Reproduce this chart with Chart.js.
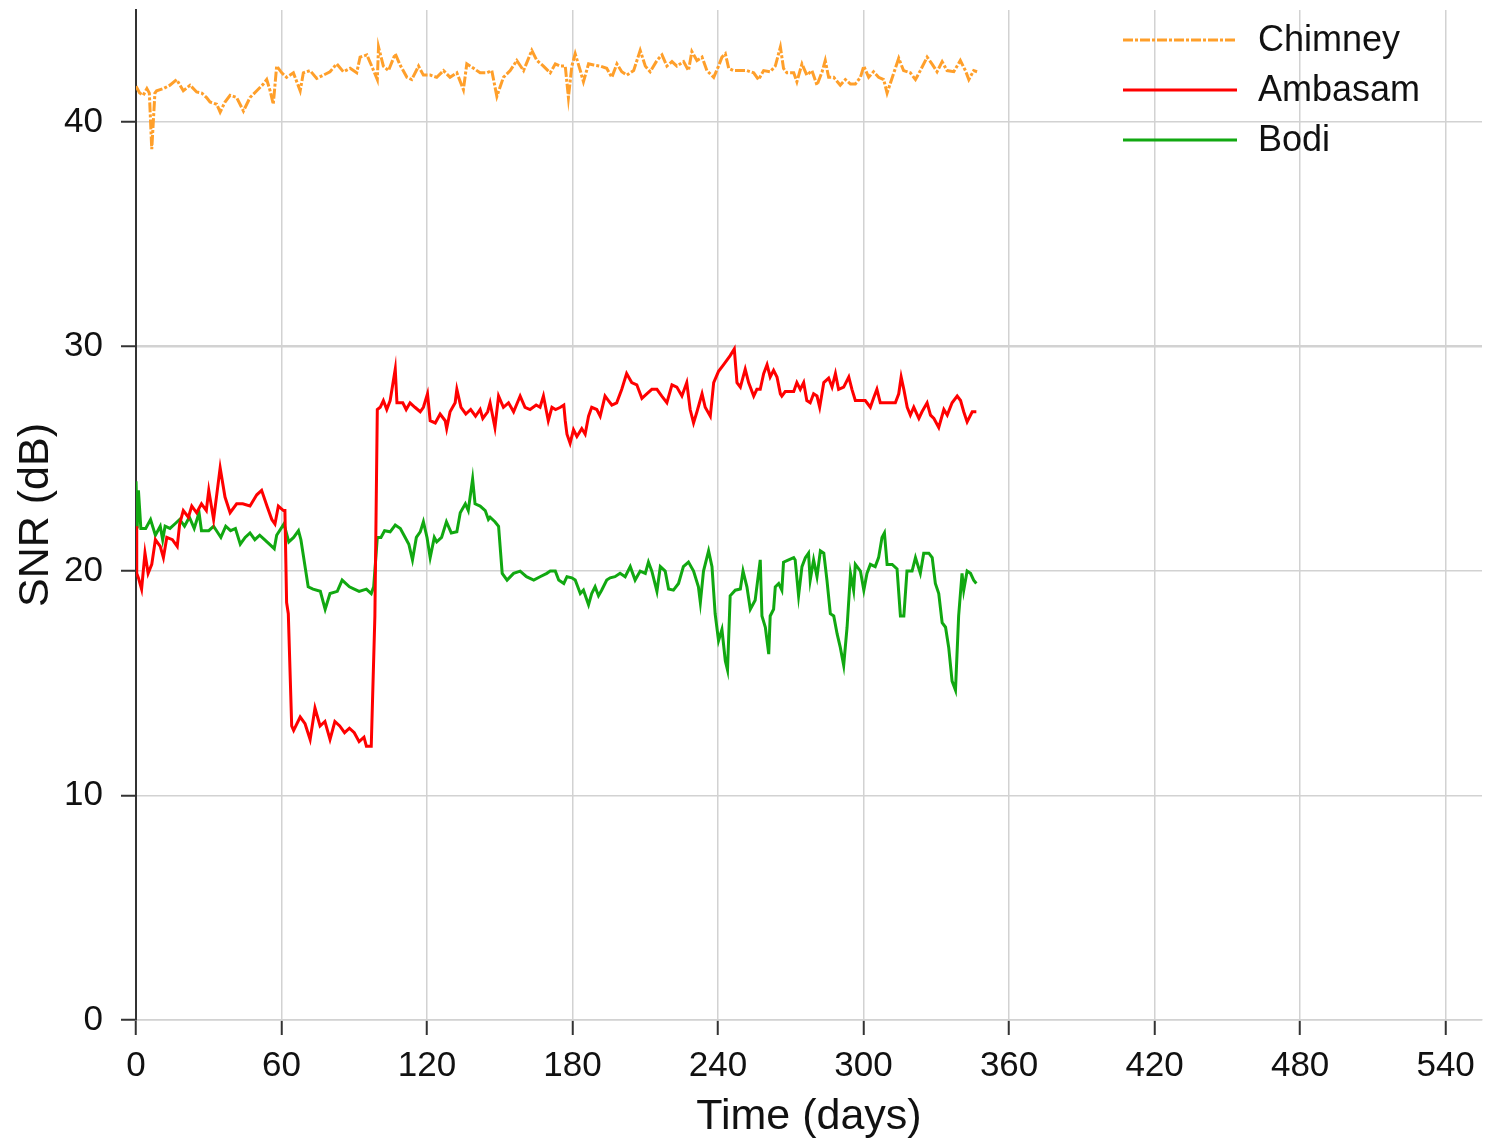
<!DOCTYPE html>
<html>
<head>
<meta charset="utf-8">
<script src="https://cdn.jsdelivr.net/npm/chart.js@4.4.1/dist/chart.umd.min.js"></script>
<style>
  html, body { margin: 0; padding: 0; background: #fff; }
  #wrap { width: 1486px; height: 1143px; }
</style>
</head>
<body>
<div id="wrap"><canvas id="snrChart"></canvas></div>
<script>
var xTicks = [0, 60, 120, 180, 240, 300, 360, 420, 480, 540];
var yTicks = [0, 10, 20, 30, 40];

var chimneyDays = [0, 1.5, 3, 4.5, 5.5, 6.5, 7.8, 8.5, 11.3, 14, 16.8, 19.5, 22.3, 25, 27.1, 29.1, 30.5, 33.3, 34.7, 36.7,
    38.8, 41.5, 44.3, 47, 49.8, 52.5, 53.9, 55.3, 56.6, 58, 60.1, 62.1, 64.9, 67.7, 69, 71.8, 74.5, 77.3, 80, 82.8,
    85.5, 88.3, 91, 92.4, 95.2, 97.2, 99.5, 100, 102, 104.1, 106.9, 108.9, 111.7, 113.7, 116.5, 118.5, 121.3, 124, 126.8, 129.5,
    132.3, 135, 136.4, 139.2, 141.9, 144.6, 146.7, 148.8, 151.5, 154.3, 157, 159.8, 163.2, 165.3, 168, 170.8, 172.9, 174.9, 177, 178.3,
    179.7, 181.1, 183.2, 184.5, 186.6, 188.7, 191.4, 194.1, 196.2, 198.3, 200.3, 202.4, 205.2, 207.9, 210, 212, 214.8, 216.9, 218.9, 221,
    223, 225.8, 227.8, 229.2, 231.3, 233.4, 235.4, 238.2, 240.2, 241.6, 243, 244.4, 246.4, 249.2, 251.9, 254.7, 256.7, 258.8, 261.5, 263.6,
    265.7, 267, 268.4, 271.2, 272.5, 274.6, 276.6, 278.7, 280.8, 282.9, 284.2, 285.6, 287.7, 290.4, 292.5, 294.6, 296.6, 298.7, 300.1, 302.1,
    304.1, 306.2, 308.3, 309.7, 311.7, 314.5, 316.5, 319.3, 321.4, 323.4, 326.2, 328.2, 330.3, 332.4, 334.4, 337.2, 339.9, 342, 343.4, 345.4, 346.8];
var chimneySnr = [41.6, 41.3, 41.2, 41.5, 41.3, 38.8, 41.3, 41.4, 41.5, 41.65, 41.9, 41.4, 41.65, 41.35, 41.3, 41.1, 40.9, 40.8, 40.45, 40.9,
    41.2, 41.1, 40.5, 41.1, 41.4, 41.7, 41.9, 41.4, 40.8, 42.5, 42.2, 42.0, 42.2, 41.4, 42.2, 42.3, 41.95, 42.1, 42.25, 42.6,
    42.25, 42.4, 42.2, 42.9, 43.0, 42.5, 41.9, 43.35, 42.5, 42.3, 43.05, 42.55, 42.0, 41.9, 42.5, 42.1, 42.1, 42.0, 42.3, 42.0,
    42.2, 41.45, 42.6, 42.4, 42.2, 42.2, 42.3, 41.15, 42.0, 42.3, 42.75, 42.3, 43.2, 42.75, 42.5, 42.2, 42.6, 42.5, 42.5, 41.1,
    42.5, 43.05, 42.3, 41.8, 42.6, 42.55, 42.5, 42.4, 42.0, 42.6, 42.25, 42.1, 42.3, 43.2, 42.5, 42.25, 42.75, 43.0, 42.5, 42.7,
    42.5, 42.7, 42.3, 43.15, 42.75, 42.9, 42.3, 42.0, 42.5, 42.9, 43.05, 42.4, 42.3, 42.3, 42.3, 42.2, 41.9, 42.3, 42.25, 42.5,
    43.35, 42.4, 42.2, 42.2, 41.8, 42.6, 42.1, 42.3, 41.65, 42.25, 42.75, 42.0, 42.0, 41.65, 41.9, 41.7, 41.7, 42.0, 42.5, 42.0,
    42.25, 42.0, 41.9, 41.3, 41.95, 42.85, 42.3, 42.2, 41.9, 42.3, 42.9, 42.6, 42.25, 42.7, 42.3, 42.25, 42.75, 42.3, 41.9, 42.3, 42.25];

var ambasamDays = [0, 0.3, 1, 2.3, 3.7, 5, 6.5, 8, 10, 11.3, 12.7, 15, 17, 18, 19.5, 21.6, 23, 25, 27, 29,
    30, 32, 34.7, 36.7, 38.8, 41.5, 44, 47, 49.8, 51.8, 54, 56, 57.3, 58.7, 60.8, 61.4, 62.1, 62.8, 64.2, 65,
    67.7, 69.7, 71.8, 73.8, 75.9, 77.9, 80, 82, 84, 86, 88, 90, 92, 94, 95, 97, 98.5, 99.5, 100.7, 102,
    103.4, 104.8, 106, 106.9, 107.6, 110, 111.4, 113, 115, 117.2, 118.5, 120.2, 121.3, 123.4, 125.4, 127.5, 128.1, 129.5, 131.6, 132.3,
    134, 136, 138, 140, 141.9, 143, 145, 146, 148, 149.5, 151.5, 153.6, 155.7, 158.4, 160.4, 162.5, 165, 166.6, 168, 170,
    171.5, 173, 175, 176.4, 177, 177.7, 179, 180.4, 181.8, 183.8, 185.2, 186.6, 187.9, 190, 191.4, 193.4, 194.8, 196.2, 198.2, 200.3,
    202.3, 204.4, 206.5, 208.6, 210.6, 212.7, 214.8, 216.8, 218.9, 221, 223, 225.1, 227.1, 228.5, 229.9, 231.3, 233.4, 234.7, 236.8, 238.2,
    240.2, 242.3, 245, 246.7, 247.8, 249.2, 251.2, 252.6, 254.7, 256, 257.4, 258.8, 260.2, 261.5, 262.9, 264.3, 265.7, 266.3, 267.7, 269.8,
    271.2, 272.5, 273.9, 275.3, 276.6, 278, 279.4, 280.8, 281.9, 283.6, 285.6, 287, 288.4, 289.7, 291.8, 293.9, 295.2, 296.6, 298.7, 300.7,
    302.8, 304.1, 305.5, 306.9, 309, 311.1, 313.1, 314.5, 315.5, 316.6, 318, 319.3, 320.7, 322.8, 324.1, 326.2, 327.6, 329, 331, 333.1,
    334.5, 336.5, 338.6, 340, 341.3, 342.7, 344.8, 346.5];
var ambasamSnr = [22.0, 19.9, 19.7, 19.2, 20.8, 19.9, 20.3, 21.4, 21.1, 20.6, 21.5, 21.4, 21.1, 22.1, 22.7, 22.4, 22.9, 22.6, 23.0, 22.7,
    23.6, 22.3, 24.6, 23.3, 22.6, 23.0, 23.0, 22.9, 23.4, 23.6, 22.9, 22.3, 22.1, 22.9, 22.7, 22.7, 18.6, 18.1, 13.1, 12.9,
    13.5, 13.2, 12.5, 13.9, 13.1, 13.3, 12.5, 13.3, 13.1, 12.8, 13.0, 12.8, 12.4, 12.6, 12.2, 12.2, 18.0, 27.2, 27.3, 27.6,
    27.2, 27.6, 28.4, 29.0, 27.5, 27.5, 27.2, 27.5, 27.3, 27.1, 27.3, 27.9, 26.7, 26.6, 27.0, 26.7, 26.35, 27.1, 27.5, 28.1,
    27.3, 27.0, 27.2, 26.9, 27.2, 26.8, 27.1, 27.5, 26.4, 27.8, 27.3, 27.5, 27.1, 27.8, 27.3, 27.2, 27.4, 27.3, 27.8, 26.7,
    27.3, 27.2, 27.3, 27.4, 26.7, 26.1, 25.7, 26.3, 26.0, 26.35, 26.1, 26.9, 27.3, 27.2, 26.9, 27.8, 27.6, 27.4, 27.5, 28.1,
    28.8, 28.4, 28.3, 27.7, 27.9, 28.1, 28.1, 27.8, 27.5, 28.3, 28.2, 27.8, 28.4, 27.2, 26.6, 27.1, 27.9, 27.3, 26.9, 28.4,
    28.9, 29.2, 29.6, 29.9, 28.4, 28.2, 29.0, 28.4, 27.8, 28.1, 28.1, 28.8, 29.2, 28.65, 28.95, 28.65, 27.9, 27.8, 28.0, 28.0,
    28.0, 28.4, 28.1, 28.4, 27.6, 27.5, 27.9, 27.8, 27.3, 28.4, 28.6, 28.2, 28.8, 28.1, 28.2, 28.65, 28.1, 27.6, 27.6, 27.6,
    27.3, 27.7, 28.1, 27.5, 27.5, 27.5, 27.5, 27.9, 28.65, 28.1, 27.3, 26.95, 27.3, 26.8, 27.1, 27.5, 26.95, 26.8, 26.4, 27.2,
    26.95, 27.5, 27.8, 27.6, 27.1, 26.65, 27.1, 27.1];

var bodiDays = [0, 0.5, 1, 2, 4, 6, 8, 10, 11, 12, 14, 16, 18, 20, 22, 24, 26, 27, 30, 32,
    35, 37, 39, 41, 43, 45, 47, 49, 51, 53, 55, 57, 58, 61, 63, 65, 67, 68, 71, 73,
    76, 78, 80, 83, 85, 88, 90, 92, 95, 97, 98, 99.5, 101, 102.5, 104.8, 106.9, 109, 111, 112.5, 114,
    115.6, 117.2, 118.5, 120, 121.3, 123, 124, 126, 128, 130, 132.3, 133.7, 135.8, 137, 138.8, 139.8, 141.9, 144, 145.3, 146,
    148, 149.5, 151, 153, 155.7, 158.4, 161, 164, 166.6, 169.4, 170.8, 172.9, 174.3, 176.4, 177.7, 179.7, 181.1, 183.2, 184.5, 186.6,
    187.9, 189.3, 190.7, 192, 194.1, 195.5, 197.5, 199.6, 201.7, 203.8, 205.8, 207.9, 210, 211.3, 212.7, 214.8, 216.2, 218.2, 219.6, 221.6,
    223.7, 225.7, 227.8, 229.9, 231.9, 232.7, 234, 236.1, 237.5, 238.8, 240.2, 241.6, 243, 243.9, 245, 247.1, 249.2, 250.3, 251.9, 253.3,
    255.3, 257.4, 258.1, 259.5, 260.9, 261.5, 262.9, 263.6, 265, 266.3, 267, 269.1, 271.2, 271.8, 273.2, 274.6, 276, 277.3, 278, 279.4,
    280.8, 282.2, 283.6, 284.9, 286.3, 287.7, 289.1, 290.4, 291.8, 293.2, 294.6, 295.9, 296.6, 298.7, 300.1, 301.4, 302.8, 304.8, 306.2, 307.6,
    308.6, 309.7, 311.8, 313.8, 315.2, 316.6, 317.9, 320, 321.4, 323.4, 324.8, 326.9, 328.3, 329.6, 331, 332.4, 333.8, 335.1, 336.5, 337.9,
    339.2, 340.6, 341.3, 342.7, 344.1, 345.4, 346.5];
var bodiSnr = [24.0, 21.9, 23.6, 21.9, 21.9, 22.3, 21.6, 22.0, 21.4, 22.0, 21.9, 22.1, 22.3, 22.0, 22.4, 21.9, 22.6, 21.8, 21.8, 22.0,
    21.5, 22.0, 21.8, 21.9, 21.2, 21.5, 21.7, 21.4, 21.6, 21.4, 21.2, 21.0, 21.6, 22.1, 21.3, 21.5, 21.8, 21.4, 19.3, 19.2,
    19.1, 18.3, 19.0, 19.1, 19.6, 19.3, 19.2, 19.1, 19.2, 19.0, 19.3, 21.5, 21.5, 21.8, 21.75, 22.05, 21.9, 21.5, 21.2, 20.5,
    21.5, 21.75, 22.2, 21.5, 20.6, 21.5, 21.3, 21.5, 22.2, 21.7, 21.75, 22.6, 23.0, 22.7, 24.1, 23.0, 22.9, 22.7, 22.3, 22.4,
    22.2, 22.0, 19.9, 19.6, 19.9, 20.0, 19.75, 19.6, 19.75, 19.9, 20.0, 20.0, 19.6, 19.45, 19.75, 19.7, 19.6, 19.0, 19.15, 18.5,
    19.0, 19.3, 18.9, 19.15, 19.6, 19.7, 19.75, 19.9, 19.75, 20.2, 19.6, 20.0, 19.9, 20.4, 20.0, 19.1, 20.2, 20.0, 19.2, 19.15,
    19.45, 20.2, 20.4, 20.0, 19.3, 18.6, 20.0, 20.9, 20.2, 18.1, 16.9, 17.4, 16.0, 15.6, 18.9, 19.15, 19.2, 20.0, 19.3, 18.3,
    18.7, 20.5, 18.0, 17.5, 16.3, 18.0, 18.3, 19.3, 19.45, 19.15, 20.4, 20.5, 20.6, 20.5, 18.9, 20.2, 20.6, 20.8, 19.6, 20.5,
    19.75, 20.9, 20.8, 19.6, 18.1, 18.0, 17.2, 16.6, 15.8, 17.5, 19.9, 19.15, 20.3, 20.0, 19.15, 19.9, 20.3, 20.2, 20.6, 21.5,
    21.7, 20.3, 20.3, 20.1, 18.0, 18.0, 20.0, 20.0, 20.6, 19.9, 20.8, 20.8, 20.6, 19.45, 19.0, 17.7, 17.5, 16.6, 15.1, 14.7,
    18.0, 19.9, 19.15, 20.0, 19.9, 19.6, 19.45];

function toPoints(days, vals) {
    return days.map(function (d, i) { return { x: d, y: vals[i] }; });
}

var labelFont = '"Liberation Sans", Arial, sans-serif';

// legend drawn inside the plot, top right, no box
var insideLegend = {
    id: 'insideLegend',
    afterDraw: function (chart) {
        var ctx = chart.ctx;
        ctx.save();
        chart.data.datasets.forEach(function (ds, i) {
            var y = 40 + i * 50;
            ctx.beginPath();
            ctx.strokeStyle = ds.borderColor;
            ctx.lineWidth = 3;
            ctx.setLineDash(ds.borderDash || []);
            ctx.moveTo(1123, y);
            ctx.lineTo(1237, y);
            ctx.stroke();
            ctx.setLineDash([]);
            ctx.fillStyle = '#111';
            ctx.font = '36px ' + labelFont;
            ctx.textBaseline = 'middle';
            ctx.textAlign = 'left';
            ctx.fillText(ds.label, 1258, y + 1);
        });
        ctx.restore();
    }
};

var ctxSnr = document.getElementById('snrChart');
var snrChart = new Chart(ctxSnr, {
    type: 'line',
    data: {
        datasets: [{
            label: 'Chimney',
            data: toPoints(chimneyDays, chimneySnr),
            borderColor: '#FF9F2A',
            borderDash: [10, 2, 3, 2],
            borderWidth: 3
        }, {
            label: 'Ambasam',
            data: toPoints(ambasamDays, ambasamSnr),
            borderColor: '#FF0000',
            borderWidth: 3
        }, {
            label: 'Bodi',
            data: toPoints(bodiDays, bodiSnr),
            borderColor: '#11A811',
            borderWidth: 3
        }]
    },
    options: {
        responsive: true,
        maintainAspectRatio: false,
        animation: false,
        layout: { autoPadding: false, padding: { top: 10, right: 4, left: 0, bottom: 0 } },
        elements: { point: { radius: 0 }, line: { tension: 0 } },
        plugins: { legend: { display: false }, tooltip: { enabled: false } },
        scales: {
            x: {
                type: 'linear',
                min: 0,
                max: 555,
                afterBuildTicks: function (s) { s.ticks = xTicks.map(function (v) { return { value: v }; }); },
                afterFit: function (s) { s.height = 123; s.paddingLeft = 0; s.paddingRight = 0; },
                grid: { color: '#d2d2d2', lineWidth: 1.5, tickColor: '#333', tickLength: 15, tickWidth: 2 },
                border: { color: '#d2d2d2', width: 1.5 },
                ticks: { color: '#111', padding: 10, maxRotation: 0, font: { family: labelFont, size: 35 } },
                title: { display: true, text: 'Time (days)', color: '#111', padding: { top: 0, bottom: 0 },
                    font: { family: labelFont, size: 43 } }
            },
            y: {
                min: 0,
                max: 45,
                afterBuildTicks: function (s) { s.ticks = yTicks.map(function (v) { return { value: v }; }); },
                afterFit: function (s) { s.width = 136; s.paddingTop = 0; s.paddingBottom = 0; },
                grid: {
                    color: '#d2d2d2',
                    lineWidth: function (c) { return c.tick && c.tick.value === 30 ? 2.5 : 1.5; },
                    tickColor: '#333', tickLength: 15, tickWidth: 2
                },
                border: { color: '#333', width: 2 },
                ticks: { color: '#111', padding: 18, font: { family: labelFont, size: 35 } },
                title: { display: true, text: 'SNR (dB)', color: '#111', padding: { top: 10, bottom: 0 },
                    font: { family: labelFont, size: 43 } }
            }
        }
    },
    plugins: [insideLegend]
});
</script>
</body>
</html>
